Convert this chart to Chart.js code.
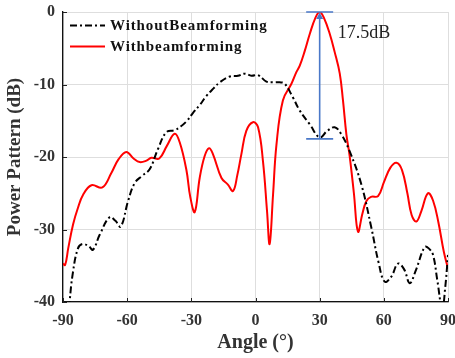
<!DOCTYPE html>
<html>
<head>
<meta charset="utf-8">
<script src="https://cdn.jsdelivr.net/npm/chart.js@4"></script>
<style>
  body { margin: 0; background: #fff; }
  #wrap { width: 455px; height: 358px; }
</style>
</head>
<body>
<div id="wrap"><canvas id="pattern-chart"></canvas></div>
<script>
// angles (deg) and levels (dB)
var noBfAngle = [-88, -86.9, -85.3, -83, -80.9, -78, -76, -72.8, -68.2, -65.5, -63, -59.6, -56.5, -53, -49.5, -45.6, -41.7,
    -37.8, -35, -32, -29.2, -26, -23, -19.5, -16.7, -12.1, -8.2, -5.1, -1.9, 1.2, 5.1, 8, 11.3, 13.7, 17.5, 20.7,
    25.4, 30, 33.5, 37, 40, 44, 49.5, 54.2, 57.5, 60.4, 63.5, 66.6, 69.5, 72.1, 75, 79.1, 81, 83, 85, 87.3, 88.7, 90];
var noBfLevel = [-45, -40, -35.8, -32.6, -32.0, -32.3, -32.8, -30.7, -28.3, -28.8, -29.6, -26.1, -23.6, -22.6, -21.7, -18.9, -16.6,
    -16.3, -15.8, -15.0, -13.9, -12.8, -11.6, -10.5, -9.7, -8.9, -8.8, -8.5, -8.8, -8.7, -9.6, -9.7, -9.7, -9.9, -11.8, -13.6,
    -15.5, -17.3, -16.4, -15.9, -16.8, -19.2, -23.8, -29.8, -34.5, -37.2, -36.5, -34.7, -35.5, -37.4, -35.6, -32.4, -32.6, -33.5, -37, -41, -38, -33.5];

var bfAngle = [-90, -89, -87.5, -85.3, -83, -80.6, -76.7, -71.6, -67.4, -64, -60.4, -57, -54.1, -51, -48.7, -45, -41.5,
    -37.8, -35.4, -32.3, -30.5, -28.4, -26.1, -23.8, -21.7, -19.9, -15.9, -12.9, -10.5, -8.5, -6.6, -4.3, -1.2, 1.2,
    3.5, 5.4, 6.6, 8.2, 9.8, 12.8, 16.8, 19.1, 20.7, 23, 25.4, 28, 30, 32, 34.7, 37, 39.4, 40.9, 42.5, 44, 46, 47.9,
    50, 51.8, 54, 57.3, 60, 63, 65.9, 68.5, 71, 73, 75.2, 77.5, 80.6, 83, 85.5, 88, 90];
var bfLevel = [-34.7, -34.9, -32.5, -29.3, -27, -25.2, -23.9, -24.2, -22.2, -20.3, -19.3, -20.2, -20.7, -20.5, -20.1, -20.2, -18.5,
    -16.8, -18.0, -21.8, -25.5, -27.6, -22.9, -19.9, -18.8, -19.6, -22.9, -23.8, -24.7, -22.5, -19.6, -16.4, -15.2, -15.9,
    -20.6, -27.5, -32.0, -25.2, -18.3, -12.2, -9.9, -8.3, -7.4, -5.4, -3.0, -0.8, 0, -0.8, -3.0, -5.5, -8.5, -12.2, -16.9, -19.8, -25, -30.3,
    -27.8, -26.1, -25.5, -25.4, -23.5, -21.5, -20.8, -21.8, -25, -28, -28.9, -27.5, -25.0, -26, -29, -33, -35.4];

var xTicks = [-90, -60, -30, 0, 30, 60, 90];
var yTicks = [-40, -30, -20, -10, 0];

// gain marker between the two curves at the main beam
var gapAngle = 30;
var gapTop = 0;
var gapBottom = -17.5;
var gapLabel = '17.5dB';

function toPoints(xs, ys) {
    return xs.map(function (x, i) { return { x: x, y: ys[i] }; });
}

var serif = '"Liberation Serif", "Times New Roman", serif';

// matlab-ish extras: inner ticks, legend box in the corner, the gain arrow
var extras = {
    id: 'extras',
    afterDatasetsDraw: function (chart) {
        var c = chart.ctx;
        var xs = chart.scales.x, ys = chart.scales.y;
        var area = chart.chartArea;

        c.save();
        c.strokeStyle = '#222';
        c.lineWidth = 1;
        c.beginPath();
        xTicks.forEach(function (v) {
            var p = Math.round(xs.getPixelForValue(v)) + 0.5;
            c.moveTo(p, area.bottom);
            c.lineTo(p, area.bottom - 4);
        });
        yTicks.forEach(function (v) {
            var p = Math.round(ys.getPixelForValue(v)) + 0.5;
            c.moveTo(area.left, p);
            c.lineTo(area.left + 4, p);
        });
        c.stroke();
        c.restore();

        // legend
        c.save();
        c.font = 'bold 15px ' + serif;
        c.textBaseline = 'middle';
        if ('letterSpacing' in c) c.letterSpacing = '0.9px';
        chart.data.datasets.forEach(function (ds, i) {
            var y = area.top + 13.5 + i * 21;
            c.strokeStyle = ds.borderColor;
            c.lineWidth = ds.borderWidth;
            c.setLineDash(ds.borderDash || []);
            c.beginPath();
            c.moveTo(area.left + 7, y);
            c.lineTo(area.left + 42, y);
            c.stroke();
            c.fillStyle = '#111';
            c.fillText(ds.label, area.left + 47, y + 0.5);
        });
        c.restore();

        var px = xs.getPixelForValue(gapAngle);
        var top = ys.getPixelForValue(gapTop);
        var bot = ys.getPixelForValue(gapBottom);
        c.save();
        c.strokeStyle = '#4a78c8';
        c.fillStyle = '#4a78c8';
        c.lineWidth = 1.6;
        c.beginPath();
        c.moveTo(px, top + 5);
        c.lineTo(px, bot);
        c.moveTo(px - 13.5, top);
        c.lineTo(px + 13.5, top);
        c.moveTo(px - 13.5, bot);
        c.lineTo(px + 13.5, bot);
        c.stroke();
        c.beginPath();
        c.moveTo(px, top + 0.5);
        c.lineTo(px - 3.5, top + 7);
        c.lineTo(px + 3.5, top + 7);
        c.closePath();
        c.fill();
        c.fillStyle = '#222';
        c.font = '18px ' + serif;
        c.textBaseline = 'middle';
        c.fillText(gapLabel, px + 18, top + 21.5);
        c.restore();
    }
};

var ctx = document.getElementById('pattern-chart');
var patternChart = new Chart(ctx, {
    type: 'line',
    data: {
        datasets: [{
            label: 'WithoutBeamforming',
            data: toPoints(noBfAngle, noBfLevel),
            borderColor: '#000',
            borderWidth: 2,
            borderDash: [7, 3, 2, 3],
            pointRadius: 0,
            tension: 0.4
        }, {
            label: 'Withbeamforming',
            data: toPoints(bfAngle, bfLevel),
            borderColor: '#ff0000',
            borderWidth: 2,
            pointRadius: 0,
            tension: 0.4
        }]
    },
    plugins: [extras],
    options: {
        responsive: true,
        maintainAspectRatio: false,
        animation: false,
        layout: { padding: { top: 12, right: 7, left: 0, bottom: 0 } },
        plugins: {
            tooltip: { enabled: false },
            legend: { display: false }
        },
        scales: {
            x: {
                type: 'linear',
                min: -90,
                max: 90,
                afterBuildTicks: function (s) { s.ticks = xTicks.map(function (v) { return { value: v }; }); },
                afterFit: function (s) { s.height = 56; s.paddingLeft = 0; s.paddingRight = 0; },
                grid: { color: '#dedede', lineWidth: 1, drawTicks: false },
                border: { color: '#111', width: 1.3 },
                ticks: { color: '#333', padding: 9, maxRotation: 0, font: { family: serif, size: 16, weight: 'bold' } },
                title: {
                    display: true,
                    text: 'Angle (°)',
                    color: '#333',
                    padding: { top: 0, bottom: 3 },
                    font: { family: serif, size: 20, weight: 'bold' }
                }
            },
            y: {
                min: -40,
                max: 0,
                afterBuildTicks: function (s) { s.ticks = yTicks.map(function (v) { return { value: v }; }); },
                afterFit: function (s) { s.width = 63; s.paddingTop = 0; s.paddingBottom = 0; },
                grid: { color: '#dedede', lineWidth: 1, drawTicks: false },
                border: { color: '#111', width: 1.3 },
                ticks: { color: '#333', padding: 8, font: { family: serif, size: 16, weight: 'bold' } },
                title: {
                    display: true,
                    text: 'Power Pattern (dB)',
                    color: '#333',
                    padding: { top: 4, bottom: 0 },
                    font: { family: serif, size: 19, weight: 'bold' }
                }
            }
        }
    }
});
</script>
</body>
</html>
